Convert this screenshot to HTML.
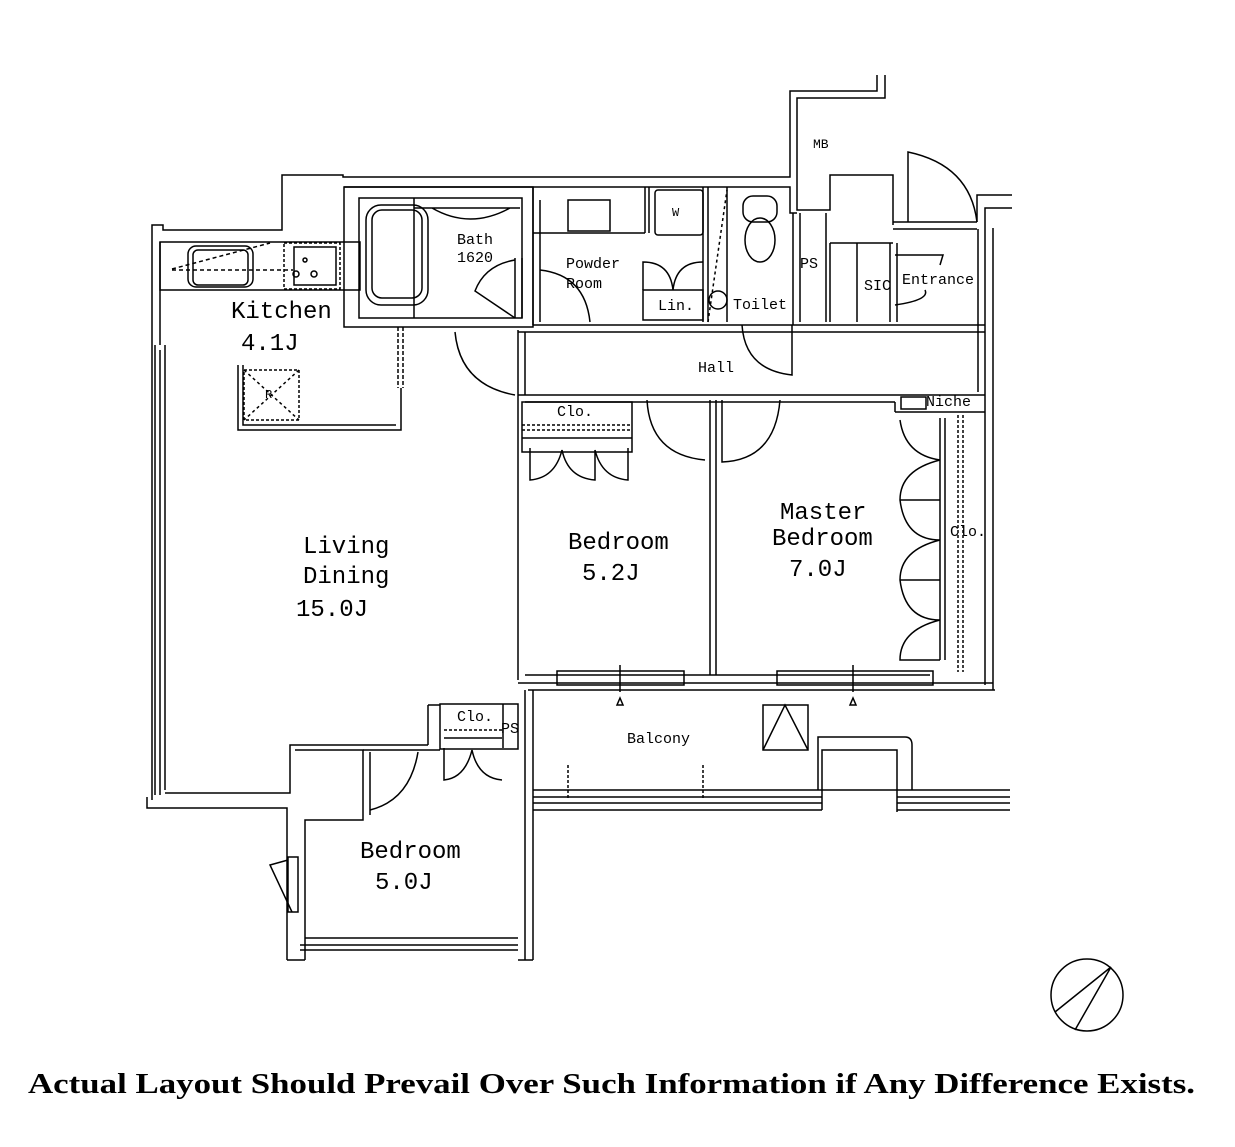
<!DOCTYPE html>
<html><head><meta charset="utf-8"><style>
html,body{margin:0;padding:0;background:#fff;}
svg{display:block;}
.t{font-family:"Liberation Mono",monospace;fill:#000;}
</style></head><body>
<svg width="1235" height="1147" viewBox="0 0 1235 1147" xmlns="http://www.w3.org/2000/svg">
<g fill="none" stroke="#000" stroke-width="1.5">
<!-- top outer wall -->
<polyline points="152,800 152,225 163,225 163,230 282,230 282,175 343,175 343,177 790,177 790,91 877,91 877,75"/>
<polyline points="885,75 885,98 797,98 797,210 830,210 830,175 893,175 893,225"/>
<!-- inner top -->
<polyline points="344,187 790,187 790,213 797,213"/>
<line x1="160" y1="242" x2="160" y2="345"/>
<rect x="160" y="242" width="200" height="48"/>
<rect x="188" y="246" width="65" height="41" rx="8"/>
<rect x="193" y="250" width="55" height="35" rx="5"/>
<line x1="172" y1="270" x2="293" y2="270" stroke-dasharray="4,3"/>
<line x1="172" y1="269" x2="270" y2="243" stroke-dasharray="4,3"/>
<rect x="284" y="243" width="56" height="46" stroke-dasharray="3,2"/>
<rect x="294" y="247" width="42" height="38"/>
<circle cx="296" cy="274" r="3"/><circle cx="314" cy="274" r="3"/><circle cx="305" cy="260" r="2"/>
<!-- bath -->
<rect x="344" y="187" width="189" height="140"/>
<rect x="359" y="198" width="163" height="120"/>
<rect x="366" y="205" width="62" height="100" rx="15"/>
<rect x="372" y="210" width="50" height="88" rx="10"/>
<line x1="414" y1="198" x2="414" y2="318"/>
<path d="M414,208 L520,208 M432,208 Q470,230 510,208"/>
<line x1="515" y1="258" x2="515" y2="318"/><line x1="522" y1="258" x2="522" y2="318"/>
<path d="M515,260 Q485,265 475,291 L515,318"/>
<!-- kitchen dashed partition -->
<line x1="398" y1="327" x2="398" y2="388" stroke-dasharray="4,2"/>
<line x1="403" y1="327" x2="403" y2="388" stroke-dasharray="4,2"/>
<polyline points="238,365 238,430 401,430 401,388"/>
<polyline points="243,365 243,425 396,425"/>
<rect x="244" y="370" width="55" height="50" stroke-dasharray="3,2"/>
<line x1="244" y1="370" x2="299" y2="420" stroke-dasharray="3,3"/><line x1="299" y1="370" x2="244" y2="420" stroke-dasharray="3,3"/>
<!-- powder room -->
<line x1="533" y1="187" x2="533" y2="325"/><line x1="540" y1="200" x2="540" y2="322"/>
<line x1="533" y1="233" x2="645" y2="233"/>
<rect x="568" y="200" width="42" height="31"/>
<line x1="645" y1="187" x2="645" y2="233"/><line x1="649" y1="187" x2="649" y2="233"/>
<rect x="655" y="190" width="48" height="45" rx="3"/>
<rect x="643" y="290" width="60" height="30"/>
<path d="M643,290 L643,262 Q670,262 673,290 Q676,262 703,262"/>
<path d="M540,270 Q585,275 590,322"/>
<line x1="703" y1="187" x2="703" y2="322"/>
<line x1="708" y1="187" x2="708" y2="322"/>
<line x1="708" y1="322" x2="727" y2="190" stroke-dasharray="3,3"/>
<circle cx="718" cy="300" r="9"/>
<line x1="727" y1="187" x2="727" y2="322"/>
<rect x="743" y="196" width="34" height="26" rx="10"/>
<ellipse cx="760" cy="240" rx="15" ry="22"/>
<line x1="793" y1="213" x2="793" y2="325"/>
<line x1="800" y1="213" x2="800" y2="322"/>
<line x1="826" y1="213" x2="826" y2="322"/>
<line x1="830" y1="243" x2="893" y2="243"/>
<line x1="830" y1="243" x2="830" y2="322"/><line x1="857" y1="243" x2="857" y2="322"/><line x1="890" y1="243" x2="890" y2="322"/>
<!-- entrance -->
<line x1="893" y1="222" x2="977" y2="222"/><line x1="893" y1="229" x2="977" y2="229"/>
<path d="M908,222 L908,152 Q970,165 977,222"/>
<polyline points="977,222 977,195 1012,195"/>
<polyline points="985,228 985,208 1012,208"/>
<path d="M895,255 L943,255 L940,265 M895,305 Q930,300 925,290"/>
<line x1="897" y1="243" x2="897" y2="322"/>
<!-- hall -->
<line x1="533" y1="325" x2="985" y2="325"/><line x1="518" y1="332" x2="985" y2="332"/>
<line x1="518" y1="330" x2="518" y2="680"/><line x1="525" y1="332" x2="525" y2="395"/>
<line x1="978" y1="229" x2="978" y2="392"/><line x1="985" y1="228" x2="985" y2="685"/><line x1="993" y1="228" x2="993" y2="690"/>
<path d="M455,332 Q460,385 515,395"/>
<path d="M742,325 Q745,370 792,375 L792,325"/>
<line x1="518" y1="395" x2="985" y2="395"/><line x1="525" y1="402" x2="895" y2="402"/>
<line x1="895" y1="402" x2="895" y2="412"/><line x1="895" y1="412" x2="985" y2="412"/>
<rect x="901" y="397" width="25" height="12"/>
<!-- bedroom 5.2 -->
<rect x="522" y="402" width="110" height="50"/>
<line x1="522" y1="425" x2="632" y2="425" stroke-dasharray="3,2"/><line x1="522" y1="430" x2="632" y2="430" stroke-dasharray="3,2"/>
<line x1="522" y1="438" x2="632" y2="438"/>
<path d="M530,448 L530,480 Q555,478 562,450 Q568,478 595,480 L595,450 Q602,478 628,480 L628,448"/>
<line x1="710" y1="400" x2="710" y2="675"/><line x1="716" y1="400" x2="716" y2="675"/>
<path d="M647,400 Q650,455 705,460"/>
<path d="M722,400 L722,462 Q775,460 780,400"/>
<!-- master closet -->
<line x1="940" y1="418" x2="940" y2="660"/><line x1="945" y1="418" x2="945" y2="660"/>
<line x1="958" y1="415" x2="958" y2="672" stroke-dasharray="3,2"/><line x1="963" y1="415" x2="963" y2="672" stroke-dasharray="3,2"/>
<path d="M900,420 Q905,455 940,460 M940,460 Q900,470 900,500 Q905,540 940,540 M940,540 Q900,550 900,580 Q905,620 940,620 M940,620 Q900,630 900,660 L940,660"/>
<line x1="900" y1="500" x2="940" y2="500"/><line x1="900" y1="580" x2="940" y2="580"/>
<!-- balcony front -->
<line x1="525" y1="675" x2="930" y2="675"/>
<line x1="518" y1="683" x2="993" y2="683"/><line x1="528" y1="690" x2="995" y2="690"/>
<rect x="557" y="671" width="127" height="14"/><rect x="777" y="671" width="156" height="14"/>
<line x1="620" y1="665" x2="620" y2="692"/><line x1="853" y1="665" x2="853" y2="692"/>
<path d="M617,705 L623,705 L620,698 Z M850,705 L856,705 L853,698 Z"/>
<rect x="763" y="705" width="45" height="45"/><path d="M763,750 L785,705 L808,750"/>
<path d="M818,790 L818,737 L905,737 Q912,737 912,745 L912,790"/>
<polyline points="822,810 822,750 897,750 897,812"/>
<line x1="533" y1="790" x2="1010" y2="790"/>
<line x1="533" y1="797" x2="822" y2="797"/><line x1="897" y1="797" x2="1010" y2="797"/>
<line x1="533" y1="803" x2="822" y2="803"/><line x1="897" y1="803" x2="1010" y2="803"/>
<line x1="533" y1="810" x2="822" y2="810"/><line x1="897" y1="810" x2="1010" y2="810"/>
<line x1="533" y1="690" x2="533" y2="960"/><line x1="525" y1="690" x2="525" y2="960"/>
<line x1="568" y1="765" x2="568" y2="800" stroke-dasharray="3,2"/><line x1="703" y1="765" x2="703" y2="800" stroke-dasharray="3,2"/>
<!-- living left windows -->
<line x1="155" y1="345" x2="155" y2="795"/><line x1="160" y1="350" x2="160" y2="795"/><line x1="165" y1="345" x2="165" y2="790"/>
<!-- lower living / bedroom 5.0 -->
<polyline points="147,797 147,808 287,808 287,960"/>
<polyline points="165,793 290,793 290,745 428,745"/>
<polyline points="295,750 363,750 363,820 305,820 305,960"/>
<polyline points="370,752 370,815"/>
<line x1="363" y1="750" x2="440" y2="750"/>
<path d="M370,810 Q410,800 418,752"/>
<rect x="440" y="704" width="78" height="45"/>
<line x1="444" y1="730" x2="502" y2="730" stroke-dasharray="3,2"/>
<line x1="444" y1="738" x2="502" y2="738"/>
<line x1="503" y1="704" x2="503" y2="748"/>
<path d="M444,748 L444,780 Q465,778 472,750 Q478,778 502,780"/>
<line x1="428" y1="745" x2="428" y2="705"/><line x1="428" y1="705" x2="440" y2="705"/>
<rect x="288" y="857" width="10" height="55"/>
<path d="M288,860 L270,865 L292,912"/>
<line x1="305" y1="938" x2="518" y2="938"/><line x1="300" y1="945" x2="518" y2="945"/><line x1="300" y1="950" x2="518" y2="950"/>
<line x1="287" y1="960" x2="305" y2="960"/><line x1="518" y1="960" x2="533" y2="960"/>
<!-- compass -->
<circle cx="1087" cy="995" r="36"/>
<path d="M1055,1012 L1111,967 L1075,1030"/>
</g>
<g class="t">
<text x="457" y="244" font-size="15">Bath</text>
<text x="457" y="262" font-size="15">1620</text>
<text x="566" y="268" font-size="15">Powder</text>
<text x="566" y="288" font-size="15">Room</text>
<text x="672" y="216" font-size="12">W</text>
<text x="658" y="310" font-size="15">Lin.</text>
<text x="733" y="309" font-size="15">Toilet</text>
<text x="813" y="148" font-size="13">MB</text>
<text x="800" y="268" font-size="15">PS</text>
<text x="864" y="290" font-size="15">SIC</text>
<text x="902" y="284" font-size="15">Entrance</text>
<text x="698" y="372" font-size="15">Hall</text>
<text x="926" y="406" font-size="15">Niche</text>
<text x="557" y="416" font-size="15">Clo.</text>
<text x="950" y="536" font-size="15">Clo.</text>
<text x="231" y="318" font-size="24">Kitchen</text>
<text x="241" y="350" font-size="24">4.1J</text>
<text x="265" y="398" font-size="12">R</text>
<text x="303" y="553" font-size="24">Living</text>
<text x="303" y="583" font-size="24">Dining</text>
<text x="296" y="616" font-size="24">15.0J</text>
<text x="568" y="549" font-size="24">Bedroom</text>
<text x="582" y="580" font-size="24">5.2J</text>
<text x="780" y="519" font-size="24">Master</text>
<text x="772" y="545" font-size="24">Bedroom</text>
<text x="789" y="576" font-size="24">7.0J</text>
<text x="457" y="721" font-size="15">Clo.</text>
<text x="501" y="733" font-size="15">PS</text>
<text x="627" y="743" font-size="15">Balcony</text>
<text x="360" y="858" font-size="24">Bedroom</text>
<text x="375" y="889" font-size="24">5.0J</text>
</g>
<text x="28" y="1093" font-family="Liberation Serif,serif" font-size="29" font-weight="bold" fill="#000" textLength="1167" lengthAdjust="spacingAndGlyphs">Actual Layout Should Prevail Over Such Information if Any Difference Exists.</text>
</svg>
</body></html>
